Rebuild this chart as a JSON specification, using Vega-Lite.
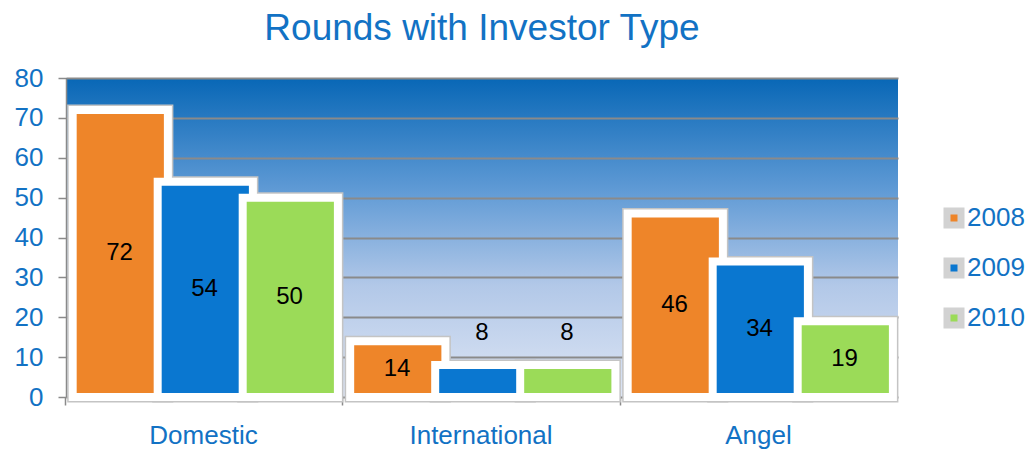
{
  "$schema": "https://vega.github.io/schema/vega-lite/v6.json",
  "width": 832,
  "height": 319,
  "autosize": "none",
  "padding": {"left": 66, "top": 78, "right": 138, "bottom": 53},
  "background": "white",
  "title": {
    "text": "Rounds with Investor Type",
    "font": "Liberation Sans",
    "fontSize": 37,
    "fontWeight": "normal",
    "color": "#1272c4",
    "anchor": "middle",
    "offset": 17
  },
  "config": {
    "view": {
      "stroke": null,
      "fill": {
        "gradient": "linear",
        "x1": 0, "y1": 0, "x2": 0, "y2": 1,
        "stops": [
          {"offset": 0, "color": "#0867b6"},
          {"offset": 0.35, "color": "#5f9ad5"},
          {"offset": 0.65, "color": "#b2c8e8"},
          {"offset": 1, "color": "#dde5f4"}
        ]
      }
    },
    "axis": {"labelFont": "Liberation Sans", "labelColor": "#1272c4", "labelFontSize": 26, "domainColor": "#8a8a8a", "tickColor": "#8a8a8a", "domainWidth": 1.5, "tickWidth": 1.5}
  },
  "data": {
    "values": [
      {"type": "Domestic", "year": "2008", "value": 72},
      {"type": "Domestic", "year": "2009", "value": 54},
      {"type": "Domestic", "year": "2010", "value": 50},
      {"type": "International", "year": "2008", "value": 14},
      {"type": "International", "year": "2009", "value": 8},
      {"type": "International", "year": "2010", "value": 8},
      {"type": "Angel", "year": "2008", "value": 46},
      {"type": "Angel", "year": "2009", "value": 34},
      {"type": "Angel", "year": "2010", "value": 19}
    ]
  },
  "encoding": {
    "x": {
      "field": "type", "type": "nominal", "sort": ["Domestic", "International", "Angel"],
      "scale": {"paddingInner": 0.081, "paddingOuter": 0.0396, "align": 1},
      "axis": {"title": null, "labelAngle": 0, "labelPadding": 17, "tickSize": 8, "bandPosition": -0.09, "labelOffset": -12, "grid": false, "domain": false}
    },
    "xOffset": {"field": "year", "type": "nominal", "scale": {"paddingInner": 0, "paddingOuter": 0}}
  },
  "layer": [
    {
      "mark": {"type": "bar", "stroke": "#c4c4c4", "strokeWidth": 11, "fill": "#c4c4c4", "strokeJoin": "miter", "width": {"band": 1.12}},
      "encoding": {
        "y": {
          "field": "value", "type": "quantitative",
          "scale": {"domain": [0, 80]},
          "axis": {"title": null, "values": [0, 10, 20, 30, 40, 50, 60, 70, 80], "grid": true, "gridColor": "#8a8a8a", "gridWidth": 2, "tickSize": 8, "labelPadding": 15, "labelOverlap": false}
        }
      }
    },
    {
      "mark": {"type": "bar", "stroke": "white", "strokeWidth": 8, "strokeJoin": "miter", "width": {"band": 1.12}},
      "encoding": {
        "y": {
          "field": "value", "type": "quantitative",
          "axis": {"title": null, "values": [0, 10, 20, 30, 40, 50, 60, 70, 80], "grid": true, "gridColor": "#8a8a8a", "gridWidth": 2, "tickSize": 8, "labelPadding": 15, "labelOverlap": false}
        },
        "color": {
          "field": "year", "type": "nominal",
          "scale": {"domain": ["2008", "2009", "2010"], "range": ["#ee8529", "#0a77d0", "#9bdb58"]},
          "legend": {
            "title": null, "orient": "none", "legendX": 875, "legendY": 127,
            "symbolType": "square", "symbolSize": 196, "symbolStrokeColor": "#d2d2d2", "symbolStrokeWidth": 7,
            "labelFont": "Liberation Sans", "labelFontSize": 26, "labelColor": "#1272c4",
            "rowPadding": 8, "labelOffset": 0
          }
        }
      }
    },
    {
      "transform": [{"filter": "datum.value >= 10"}, {"calculate": "datum.value / 2", "as": "mid"}],
      "mark": {"type": "text", "font": "Liberation Sans", "fontSize": 24, "color": "black", "dx": -11},
      "encoding": {
        "y": {
          "field": "mid", "type": "quantitative",
          "axis": {"title": null, "values": [0, 10, 20, 30, 40, 50, 60, 70, 80], "grid": true, "gridColor": "#8a8a8a", "gridWidth": 2, "tickSize": 8, "labelPadding": 15, "labelOverlap": false}
        },
        "text": {"field": "value", "type": "quantitative"}
      }
    },
    {
      "transform": [{"filter": "datum.value < 10"}],
      "mark": {"type": "text", "font": "Liberation Sans", "fontSize": 24, "color": "black", "dy": -32, "dx": -11},
      "encoding": {
        "y": {
          "field": "value", "type": "quantitative",
          "axis": {"title": null, "values": [0, 10, 20, 30, 40, 50, 60, 70, 80], "grid": true, "gridColor": "#8a8a8a", "gridWidth": 2, "tickSize": 8, "labelPadding": 15, "labelOverlap": false}
        },
        "text": {"field": "value", "type": "quantitative"}
      }
    }
  ]
}
